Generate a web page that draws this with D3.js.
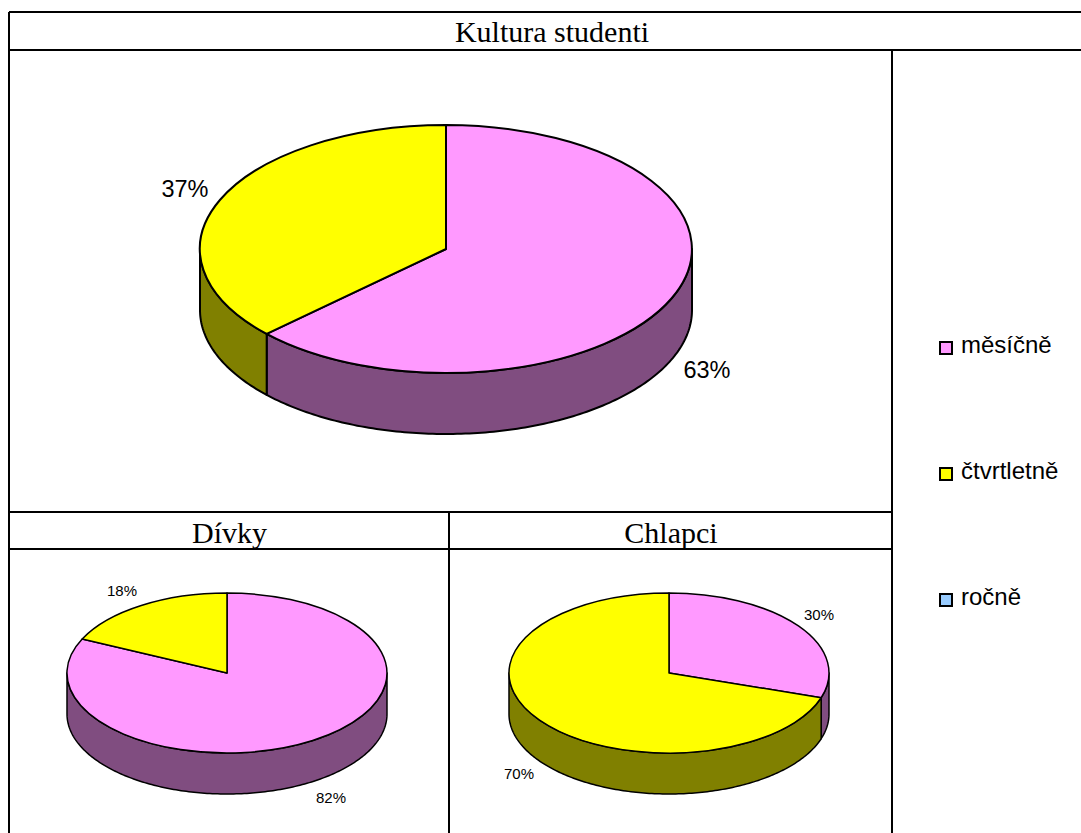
<!DOCTYPE html>
<html><head><meta charset="utf-8">
<script src="https://cdnjs.cloudflare.com/ajax/libs/d3/7.8.5/d3.min.js"></script>
<style>html,body{margin:0;padding:0;background:#fff}svg{display:block}</style>
</head><body><svg id="c" width="1081" height="833"></svg>
<script>
const categories = ["měsíčně", "čtvrtletně", "ročně"];
const topColors = ["#ff99ff", "#ffff00", "#99ccff"];
const sideColors = ["#804d80", "#808000", "#4d6680"];
const mainValues = [63, 37, 0];
const girlsValues = [82, 18, 0];
const boysValues = [30, 70, 0];
const titles = ["Kultura studenti", "Dívky", "Chlapci"];

const svg = d3.select("#c");
const sans = "Liberation Sans, Arial, sans-serif", serif = "Liberation Serif, Times New Roman, serif";

// table grid
const grid = [[9,12,1081,12],[9,50,1081,50],[9,12,9,833],[892,50,892,833],[9,512,892,512],[9,549,892,549],[449,512,449,833]];
svg.selectAll("line.g").data(grid).join("line").attr("class","g")
  .attr("x1",d=>d[0]).attr("y1",d=>d[1]).attr("x2",d=>d[2]).attr("y2",d=>d[3])
  .attr("stroke","#000").attr("stroke-width",2);

const titlePos = [[552,42],[229.5,543],[671,543]];
svg.selectAll("text.t").data(titles).join("text").attr("class","t")
  .attr("x",(d,i)=>titlePos[i][0]).attr("y",(d,i)=>titlePos[i][1])
  .attr("text-anchor","middle").attr("font-family",serif).attr("font-size",30).attr("fill","#000").text(d=>d);

const pieGen = d3.pie().sort(null).value(d=>d);

function drawPie(values, cx, cy, rx, ry, depth, labels, fontSize, sw) {
  const g = svg.append("g").attr("transform",`translate(${cx},${cy})`);
  const arcs = pieGen(values).filter(a=>a.value>0);
  const px = d3.scaleLinear().domain([0,1]).range([0,rx]);
  const py = d3.scaleLinear().domain([0,1]).range([0,ry]);
  const X = a=>px(Math.sin(a)), Y = a=>py(-Math.cos(a));
  // body: outer wall, only the front half (angles between 90° and 270°)
  arcs.forEach(a=>{
    const s = Math.max(a.startAngle, Math.PI/2), e = Math.min(a.endAngle, 3*Math.PI/2);
    if (e <= s) return;
    const n = Math.max(2, Math.ceil((e-s)*60));
    const angs = d3.range(n+1).map(i=>s+(e-s)*i/n);
    const pts = angs.map(t=>[X(t),Y(t)]).concat(angs.slice().reverse().map(t=>[X(t),Y(t)+depth]));
    g.append("path").attr("d",d3.line()(pts)+"Z")
      .attr("fill",sideColors[values.indexOf(a.value)])
      .attr("stroke","#000").attr("stroke-width",sw).attr("stroke-linejoin","round");
  });
  // top face
  const arc = d3.arc().innerRadius(0).outerRadius(1);
  const top = g.append("g").attr("transform",`scale(${rx},${ry})`);
  arcs.forEach(a=>{
    top.append("path").attr("d",arc(a))
      .attr("fill",topColors[values.indexOf(a.value)])
      .attr("stroke","#000").attr("stroke-width",sw)
      .attr("vector-effect","non-scaling-stroke").attr("stroke-linejoin","round");
  });
  arcs.forEach((a,i)=>{
    g.append("text").attr("x",labels[i][0]-cx).attr("y",labels[i][1]-cy)
      .attr("text-anchor","middle").attr("font-family",sans).attr("font-size",fontSize)
      .attr("fill","#000").text(a.value+"%");
  });
}
drawPie(mainValues, 446, 249, 246, 124, 61, [[707,378],[185,197]], 23.5, 2);
drawPie(girlsValues, 227, 673, 160, 80, 41, [[331,803],[122,596]], 15, 1.5);
drawPie(boysValues, 669, 673, 160, 80, 41, [[819,620],[519,779]], 15, 1.5);

// legend
const legendY = [346, 472, 598];
const lg = svg.selectAll("g.l").data(categories).join("g").attr("class","l")
  .attr("transform",(d,i)=>`translate(939,${legendY[i]})`);
lg.append("rect").attr("x",1).attr("y",-4).attr("width",12).attr("height",12)
  .attr("fill",(d,i)=>topColors[i]).attr("stroke","#000").attr("stroke-width",2);
lg.append("text").attr("x",22).attr("y",7).attr("font-family",sans).attr("font-size",24).attr("fill","#000").text(d=>d);
</script></body></html>
